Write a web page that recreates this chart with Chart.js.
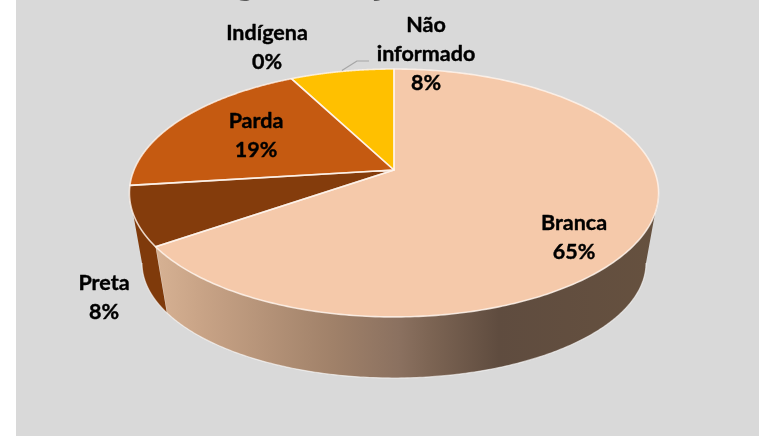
<!DOCTYPE html>
<html>
<head>
    <title>Raça/cor</title>
    <script src="https://cdn.jsdelivr.net/npm/chart.js"></script>
    <style>
    html, body { margin: 0; padding: 0; background: #fff; }
    canvas { display: block; }
    </style>
</head>
<body>
    <canvas id="pieChart" width="759" height="436"></canvas>
    <script>
      // Data
      var categories = ['Branca', 'Preta', 'Parda', 'Indígena', 'Não informado'];
      var values = [65.3, 7.7, 19.4, 0, 7.6];
      var colors = ['#f5c9aa', '#843c0c', '#c55a11', '#a5a5a5', '#ffc000'];
      var wallColors = ['', '#7f3a0b', '#a04a0e', '', '#c99800'];

      // Label layout: centre x and first baseline for each category
      var labelLines = [['Branca'], ['Preta'], ['Parda'], ['Indígena'], ['Não', 'informado']];
      var labelX = [574, 104, 256, 267, 426];
      var labelY = [230, 290, 128, 40, 32];
      var lineHeight = 29;

      // Tilted disc: the circle is seen in perspective, so the pivot sits above the rim's centre
      var cx = 394, pivotY = 170, A = 260, B = 119.7, k = 0.1853;
      var topCY = 193, topRX = 264.5, topRY = 124;
      var botCY = 263, botRX = 252, botRY = 115;

      function rim(t) {
        var w = 1 - k * Math.sin(t);
        return { x: cx + A * Math.cos(t) / w, y: pivotY + B * Math.sin(t) / w };
      }

      function bottomOf(p) {
        // point on the lower ellipse right under a rim point
        var c = Math.max(-1, Math.min(1, (p.x - cx) / topRX));
        return { x: cx + botRX * c, y: botCY + botRY * Math.sqrt(1 - c * c) };
      }

      var pie3d = {
        id: 'pie3d',
        beforeDraw: function(chart) {
          var ctx = chart.ctx;
          ctx.save();
          ctx.fillStyle = '#fff';
          ctx.fillRect(0, 0, chart.width, chart.height);
          ctx.fillStyle = '#d9d9d9';
          ctx.fillRect(16, 0, chart.width - 16, chart.height);
          // what is left of the cut-off title
          ctx.fillStyle = '#595959';
          ctx.font = 'bold 37px Lato';
          ctx.textAlign = 'center';
          ctx.textBaseline = 'alphabetic';
          ctx.fillText('g', 245, -5);
          ctx.fillText('j', 380, -5);
          ctx.restore();
        },
        // the library's flat arcs are replaced by the projected ones below
        beforeDatasetDraw: function() { return false; },
        afterDatasetsDraw: function(chart) {
          var ctx = chart.ctx;
          var arcs = chart.getDatasetMeta(0).data;
          ctx.save();

          // side wall
          var grad = ctx.createLinearGradient(157, 0, 660, 0);
          grad.addColorStop(0, '#d6b193');
          grad.addColorStop(0.09, '#c8a386');
          grad.addColorStop(0.35, '#a08169');
          grad.addColorStop(0.48, '#8b7160');
          grad.addColorStop(0.54, '#7d6554');
          grad.addColorStop(0.68, '#5f4c3f');
          grad.addColorStop(1, '#66513f');
          arcs.forEach(function(arc, i) {
            if (values[i] === 0) return;
            var pts = [];
            for (var n = 0; n <= 400; n++) {
              var p = rim(arc.startAngle + (arc.endAngle - arc.startAngle) * n / 400);
              if (p.y >= topCY) pts.push(p);
            }
            if (!pts.length) return;
            ctx.beginPath();
            pts.forEach(function(p, n) { n ? ctx.lineTo(p.x, p.y) : ctx.moveTo(p.x, p.y); });
            pts.slice().reverse().forEach(function(p) {
              var b = bottomOf(p);
              ctx.lineTo(b.x, b.y);
            });
            ctx.closePath();
            ctx.fillStyle = i === 0 ? grad : wallColors[i];
            ctx.fill();
            // pale edge along the bottom of the wall
            ctx.beginPath();
            pts.forEach(function(p, n) {
              var b = bottomOf(p);
              n ? ctx.lineTo(b.x, b.y) : ctx.moveTo(b.x, b.y);
            });
            ctx.strokeStyle = 'rgba(255,255,255,0.6)';
            ctx.lineWidth = 1.2;
            ctx.stroke();
            // pale edge at the wall's left end
            var last = pts[pts.length - 1], lastB = bottomOf(last);
            ctx.beginPath();
            ctx.moveTo(last.x, last.y);
            ctx.lineTo(lastB.x, lastB.y);
            ctx.strokeStyle = i === 0 ? 'rgba(255,255,255,0.35)' : 'rgba(255,255,255,0)';
            ctx.stroke();
          });

          // top face
          arcs.forEach(function(arc, i) {
            if (values[i] === 0) return;
            ctx.beginPath();
            ctx.moveTo(cx, pivotY);
            for (var n = 0; n <= 300; n++) {
              var p = rim(arc.startAngle + (arc.endAngle - arc.startAngle) * n / 300);
              ctx.lineTo(p.x, p.y);
            }
            ctx.closePath();
            ctx.fillStyle = colors[i];
            ctx.fill();
          });
          arcs.forEach(function(arc, i) {
            if (values[i] === 0) return;
            ctx.beginPath();
            ctx.moveTo(cx, pivotY);
            for (var n = 0; n <= 300; n++) {
              var p = rim(arc.startAngle + (arc.endAngle - arc.startAngle) * n / 300);
              ctx.lineTo(p.x, p.y);
            }
            ctx.closePath();
            ctx.strokeStyle = 'rgba(255,245,238,0.8)';
            ctx.lineWidth = 1.6;
            ctx.lineJoin = 'round';
            ctx.stroke();
          });

          // leader line for "Não informado"
          var mid = rim((arcs[4].startAngle + arcs[4].endAngle) / 2);
          ctx.beginPath();
          ctx.moveTo(mid.x, mid.y - 1);
          ctx.lineTo(357, 61);
          ctx.lineTo(369, 61);
          ctx.strokeStyle = '#a6a6a6';
          ctx.lineWidth = 1.2;
          ctx.stroke();

          // labels, with a thin outline to get the weight of the original face
          ctx.fillStyle = '#000';
          ctx.strokeStyle = '#000';
          ctx.lineWidth = 0.4;
          ctx.font = 'bold 21.5px Lato';
          ctx.textAlign = 'center';
          ctx.textBaseline = 'alphabetic';
          var total = values.reduce(function(a, b) { return a + b; }, 0);
          categories.forEach(function(name, i) {
            var lines = labelLines[i].concat(Math.round(values[i] / total * 100) + '%');
            lines.forEach(function(line, n) {
              ctx.fillText(line, labelX[i], labelY[i] + n * lineHeight);
              ctx.strokeText(line, labelX[i], labelY[i] + n * lineHeight);
            });
          });
          ctx.restore();
        }
      };

      var chart = new Chart(document.getElementById('pieChart').getContext('2d'), {
          type: 'pie',
          data: {
              labels: categories,
              datasets: [{ data: values, backgroundColor: colors, borderWidth: 0 }]
          },
          options: {
              responsive: false,
              animation: false,
              plugins: {
                  legend: { display: false },
                  tooltip: { enabled: false }
              }
          },
          plugins: [pie3d]
      });
    </script>
</body>
</html>
